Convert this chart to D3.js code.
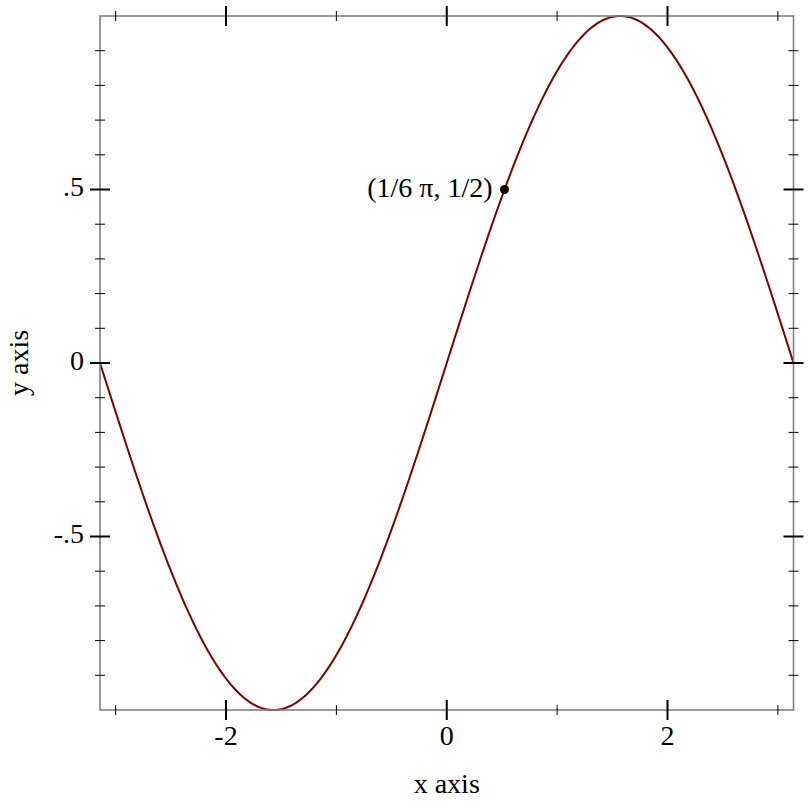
<!DOCTYPE html>
<html><head><meta charset="utf-8">
<script src="https://cdn.jsdelivr.net/npm/d3@7"></script>
<style>body{margin:0;background:#fff}</style>
</head><body>
<svg id="c" width="812" height="812"></svg>
<script>
// Data: y = sin(x) sampled on [-π, π]
const xDomain = [-Math.PI, Math.PI];
const yDomain = [-1, 1];
const sampleCount = 400;
const xs = d3.range(sampleCount + 1).map(i => -Math.PI + 2 * Math.PI * i / sampleCount);
const curve = xs.map(x => ({x, y: Math.sin(x)}));
const xMajorTicks = [-2, 0, 2];
const xMinorTicks = [-3, -1, 1, 3];
const yMajorTicks = [-0.5, 0, 0.5];
const yMajorLabels = ["-.5", "0", ".5"];
const yMinorTicks = [-0.9, -0.8, -0.7, -0.6, -0.4, -0.3, -0.2, -0.1, 0.1, 0.2, 0.3, 0.4, 0.6, 0.7, 0.8, 0.9];
const pointX = [Math.PI / 6];
const pointY = [0.5];
const pointLabel = ["(1/6 π, 1/2)"];
const xLabel = "x axis", yLabel = "y axis";

const svg = d3.select("#c");
const L = 100, R = 793.5, T = 16, B = 710;
const x = d3.scaleLinear().domain(xDomain).range([L, R]);
const y = d3.scaleLinear().domain(yDomain).range([B, T]);
const font = "'Liberation Serif', 'Times New Roman', serif";
const fs = 28;

// curve
svg.append("path").datum(curve)
  .attr("fill", "none").attr("stroke", "#800000").attr("stroke-width", 2)
  .attr("d", d3.line().x(d => x(d.x)).y(d => y(d.y)));

// frame
svg.append("rect").attr("x", L).attr("y", T).attr("width", R - L).attr("height", B - T)
  .attr("fill", "none").attr("stroke", "#808080").attr("stroke-width", 1.6);

const g = svg.append("g").attr("stroke", "#000");
// x ticks top & bottom
for (const [yy] of [[B], [T]]) {
  g.selectAll(null).data(xMajorTicks).enter().append("line")
    .attr("x1", d => x(d)).attr("x2", d => x(d)).attr("y1", yy - 10).attr("y2", yy + 10).attr("stroke-width", 2);
  g.selectAll(null).data(xMinorTicks).enter().append("line")
    .attr("x1", d => x(d)).attr("x2", d => x(d)).attr("y1", yy - 5).attr("y2", yy + 5).attr("stroke-width", 1);
}
for (const xx of [L, R]) {
  g.selectAll(null).data(yMajorTicks).enter().append("line")
    .attr("y1", d => y(d)).attr("y2", d => y(d)).attr("x1", xx - 10).attr("x2", xx + 10).attr("stroke-width", 2);
  g.selectAll(null).data(yMinorTicks).enter().append("line")
    .attr("y1", d => y(d)).attr("y2", d => y(d)).attr("x1", xx - 5).attr("x2", xx + 5).attr("stroke-width", 1);
}

// tick labels
svg.selectAll(null).data(xMajorTicks).enter().append("text")
  .attr("x", d => x(d)).attr("y", B + 35).attr("text-anchor", "middle")
  .attr("font-family", font).attr("font-size", fs).text(d => d);
svg.selectAll(null).data(yMajorTicks).enter().append("text")
  .attr("x", 84).attr("y", d => y(d) + 6.5).attr("text-anchor", "end")
  .attr("font-family", font).attr("font-size", fs).text((d, i) => yMajorLabels[i]);

// axis labels
svg.append("text").attr("x", (L + R) / 2).attr("y", 793).attr("text-anchor", "middle")
  .attr("font-family", font).attr("font-size", fs).text(xLabel);
svg.append("text").attr("transform", `translate(28,${(T + B) / 2}) rotate(-90)`).attr("text-anchor", "middle")
  .attr("font-family", font).attr("font-size", fs).text(yLabel);

// labelled point
svg.selectAll(null).data(pointX).enter().append("circle")
  .attr("cx", d => x(d)).attr("cy", (d, i) => y(pointY[i])).attr("r", 4.5).attr("fill", "#000");
svg.selectAll(null).data(pointX).enter().append("text")
  .attr("x", d => x(d) - 12).attr("y", (d, i) => y(pointY[i]) + 7).attr("text-anchor", "end")
  .attr("font-family", font).attr("font-size", fs).text((d, i) => pointLabel[i]);
</script>
</body></html>
